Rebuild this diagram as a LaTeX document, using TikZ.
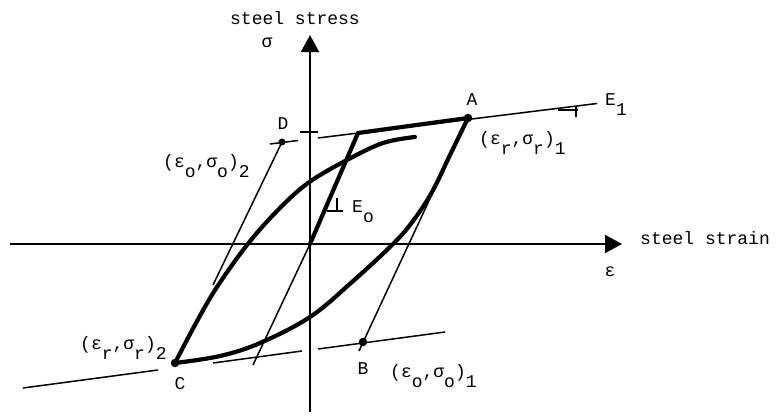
\documentclass[tikz,border=0pt]{standalone}
\usepackage{fontspec}
\setmonofont{Liberation Mono}
\usetikzlibrary{arrows.meta}
\newcommand{\dn}[1]{\raisebox{-0.6em}{#1}}

\begin{document}
\begin{tikzpicture}[
    x=1pt, y=-1pt,
    axis/.style={line width=1.8pt, -{Triangle[length=17pt,width=18pt]}},
    asym/.style={line width=1.5pt},
    branch/.style={line width=4.2pt, line cap=round},
    lbl/.style={font=\ttfamily\fontsize{18}{20}\selectfont, inner sep=0pt},
    pt/.style={circle, fill, inner sep=0pt, minimum size=8.5pt}
  ]
  \useasboundingbox (0,0) rectangle (780,418);

  % axes
  \coordinate (O) at (310,244);
  \coordinate (xl) at (10,244);
  \coordinate (xr) at (622,244);
  \coordinate (yb) at (310,412);
  \coordinate (yt) at (310,35);
  \draw[axis] (xl) -- (xr);
  \draw[axis] (yb) -- (yt);

  % reversal points
  \node[pt] (A) at (468,118) {};
  \node[pt] (B) at (363,342) {};
  \node[pt] (C) at (175,363) {};
  \node[pt, minimum size=7pt] (P2) at (282,142) {};

  % upper E1 asymptote
  \coordinate (u1) at (270,144);
  \coordinate (u2) at (298,140.5);
  \coordinate (u3) at (318,138);
  \coordinate (Y) at (358,133);
  \coordinate (u4) at (597,103.5);
  \draw[asym] (u1) -- (u2);
  \draw[asym] (u3) -- (u4);
  \draw[branch] (Y) -- (A.center);

  % lower E1 asymptote
  \coordinate (l1) at (23,388);
  \coordinate (l2) at (158,370);
  \coordinate (l3) at (213,363);
  \coordinate (l4) at (302,351);
  \coordinate (l5) at (318,349);
  \coordinate (l6) at (445,332);
  \draw[asym] (l1) -- (l2);
  \draw[asym] (l3) -- (l4);
  \draw[asym] (l5) -- (l6);

  % E0 lines
  \coordinate (e0b) at (253,365);
  \coordinate (p2e) at (213,285);
  \coordinate (bb) at (359,351);
  \coordinate (ba) at (434,190);
  \draw[branch] (Y) -- (O);
  \draw[asym] (O) -- (e0b);
  \draw[asym] (P2.center) -- (p2e);
  \draw[asym] (bb) -- (ba);

  % branches
  \draw[branch] plot[smooth, tension=0.6] coordinates {(C.center) (196,323) (217,287)
    (247,245) (277,211) (308,183) (347,160) (383,143) (415,137)};
  \draw[branch] plot[smooth, tension=0.6] coordinates {(A.center) (450,155) (432,192)
    (413,221) (393,244) (352,282) (310,317) (260,343) (220,356) (C.center)};

  % ticks
  \draw[asym] (300,132) -- (318,132);
  \draw[asym] (558,110) -- (578,110);
  \draw[asym] (576,106) -- (576,117);
  \draw[asym] (327,211) -- (343,211);
  \draw[asym] (337,198) -- (337,212);

  % labels
  \node[lbl] (ylab) at (295,18) {steel stress};
  \node[lbl] (sig) at (267,43) {σ};
  \node[lbl, anchor=west] (xlab) at (640,238) {steel strain};
  \node[lbl] (eps) at (610,272) {ε};
  \node[lbl] (Alab) at (472,100) {A};
  \node[lbl, anchor=base west] (r1) at (479,144) {(ε\dn{r},σ\dn{r})\dn{1}};
  \node[lbl, anchor=base west] (E1) at (605,105) {E\dn{1}};
  \node[lbl, anchor=base west] (E0) at (352,212) {E\dn{o}};
  \node[lbl] (Dlab) at (283,124) {D};
  \node[lbl, anchor=base west] (o2) at (163,167) {(ε\dn{o},σ\dn{o})\dn{2}};
  \node[lbl, anchor=base west] (r2) at (80,349) {(ε\dn{r},σ\dn{r})\dn{2}};
  \node[lbl] (Clab) at (180,384) {C};
  \node[lbl] (Blab) at (363,369) {B};
  \node[lbl, anchor=base west] (o1) at (390,377) {(ε\dn{o},σ\dn{o})\dn{1}};
\end{tikzpicture}
\end{document}
